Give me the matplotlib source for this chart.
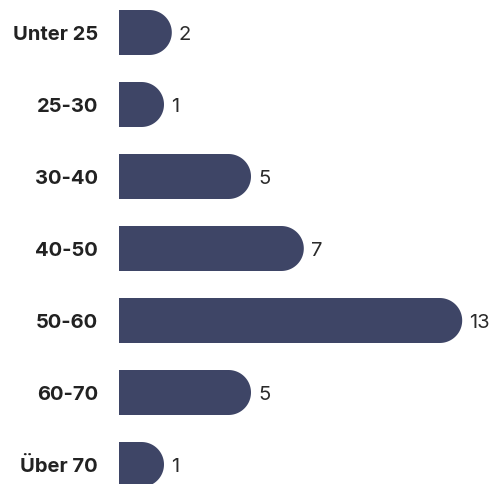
import matplotlib
matplotlib.use("Agg")
import matplotlib.pyplot as plt
import numpy as np
from matplotlib.patches import Polygon

# Altersgruppen und Anzahl
categories = ["Unter 25", "25-30", "30-40", "40-50", "50-60", "60-70", "Über 70"]
values = [2, 1, 5, 7, 13, 5, 1]

bar_color = "#3e4566"
plt.rcParams['font.family'] = ['Inter', 'DejaVu Sans']

W, H = 497, 484
fig = plt.figure(figsize=(W / 100, H / 100), dpi=100)
ax = fig.add_axes([0, 0, 1, 1])

# pixel scale: x0 at 119px, 26.4 px per unit; rows every 72px, first centre at 32.5px
ppx = 26.4
ppy = 72.0
ax.set_xlim(-119 / ppx, (W - 119) / ppx)
ax.set_ylim((H - 32.5) / ppy, -32.5 / ppy)
ax.axis("off")

bar_h = 45 / ppy
r = bar_h / 2
rx = r * ppy / ppx  # radius in x units so the cap is round on screen

theta = np.linspace(-np.pi / 2, np.pi / 2, 60)
for i, v in enumerate(values):
    w = max(v, 2 * rx)
    cx = w - rx
    pts = [(0, i + r)] + [(cx + rx * np.cos(t), i + r * np.sin(t)) for t in theta[::-1]] + [(0, i - r)]
    ax.add_patch(Polygon(pts, closed=True, facecolor=bar_color, edgecolor="none"))
    ax.annotate(str(v), (w, i), xytext=(7, -7), textcoords="offset pixels",
                ha="left", va="baseline", fontsize=14.5, color="#2b2b2b")
    ax.annotate(categories[i], (0, i), xytext=(-21, -7), textcoords="offset pixels",
                ha="right", va="baseline", fontsize=14.5, fontweight="bold", color="#222222")

fig.savefig("out.png", dpi=100)
